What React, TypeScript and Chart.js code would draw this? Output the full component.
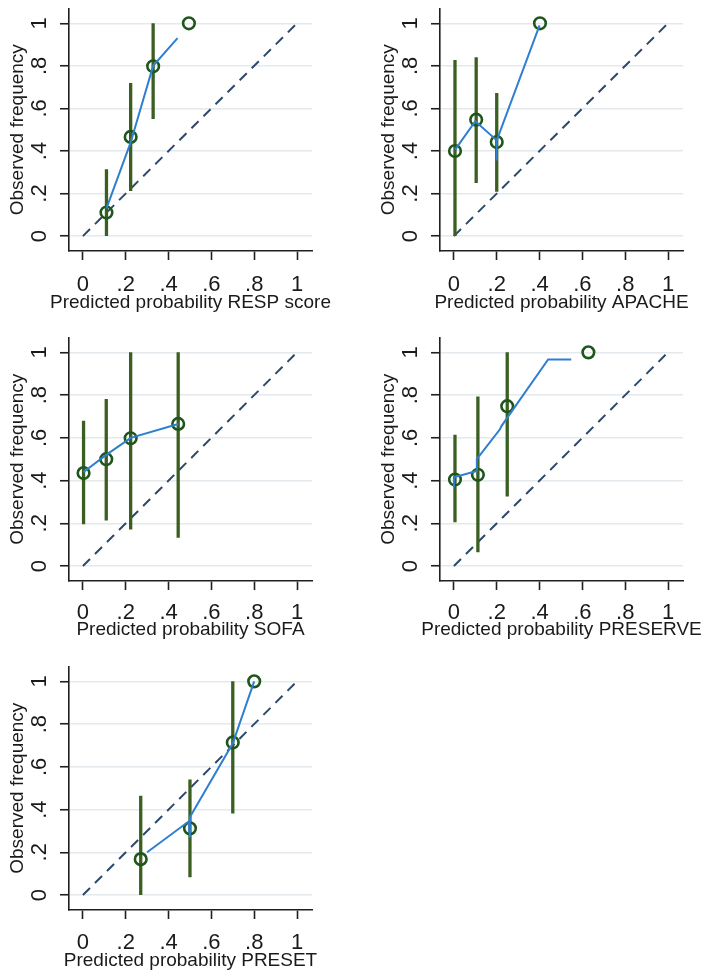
import React, { useEffect, useRef } from "react";
import { Chart, registerables } from "chart.js";

Chart.register(...registerables);

// ---------- shared axis data ----------
const tickValues = [0, 0.2, 0.4, 0.6, 0.8, 1];
const tickLabels = ["0", ".2", ".4", ".6", ".8", "1"];
const yAxisTitle = "Observed frequency";
const diagonalX = [0, 1];
const diagonalY = [0, 1];

// ---------- RESP score ----------
const respX = [0.11, 0.223, 0.328, 0.495];
const respY = [0.111, 0.466, 0.798, 1.0];
const respLo = [0.0, 0.2125, 0.55, null];
const respHi = [0.314, 0.719, 1.0, null];
const respSmoothX = [0.11, 0.223, 0.328, 0.442];
const respSmoothY = [0.13, 0.44, 0.8, 0.93];

// ---------- APACHE ----------
const apacheX = [0.005, 0.104, 0.2, 0.402];
const apacheY = [0.4, 0.547, 0.442, 1.0];
const apacheLo = [0.0, 0.25, 0.208, null];
const apacheHi = [0.828, 0.84, 0.673, null];
const apacheSmoothX = [0.005, 0.1, 0.2, 0.2, 0.2, 0.4];
const apacheSmoothY = [0.405, 0.54, 0.45, 0.355, 0.45, 0.99];

// ---------- SOFA ----------
const sofaX = [0.003, 0.109, 0.223, 0.445];
const sofaY = [0.435, 0.5, 0.598, 0.665];
const sofaLo = [0.195, 0.213, 0.171, 0.132];
const sofaHi = [0.68, 0.782, 1.0, 1.0];
const sofaSmoothX = [0.003, 0.109, 0.223, 0.445];
const sofaSmoothY = [0.44, 0.52, 0.6, 0.665];

// ---------- PRESERVE ----------
const preserveX = [0.005, 0.112, 0.249, 0.628];
const preserveY = [0.405, 0.427, 0.748, 1.0];
const preserveLo = [0.205, 0.065, 0.326, null];
const preserveHi = [0.615, 0.793, 1.0, null];
const preserveSmoothX = [0.0, 0.0, 0.107, 0.107, 0.215, 0.222, 0.44, 0.548];
const preserveSmoothY = [0.37, 0.415, 0.445, 0.5, 0.64, 0.655, 0.967, 0.967];

// ---------- PRESET ----------
const presetX = [0.27, 0.5, 0.7, 0.8];
const presetY = [0.168, 0.312, 0.714, 1.0];
const presetLo = [0.0, 0.083, 0.382, null];
const presetHi = [0.465, 0.541, 1.0, null];
const presetSmoothX = [0.3, 0.495, 0.5, 0.5, 0.7, 0.8];
const presetSmoothY = [0.2, 0.345, 0.27, 0.365, 0.71, 1.0];

// ---------- styles ----------
const FONT = "'Liberation Sans', Arial, Helvetica, sans-serif";
const AXIS = "#1f1f1f";
const GRID = "#e3e9ed";
const TEXT = "#1a1a1a";
const BLUE = "#2f7fd1";
const GREEN_MARK = "#1e561c";
const GREEN_CI = "#3b5f21";
const DIAG = "#2d4869";

type PanelCfg = {
  title: string;
  x: number[];
  y: number[];
  lo: (number | null)[];
  hi: (number | null)[];
  sx: number[];
  sy: number[];
  left: number;
  top: number;
  width: number;
  height: number;
  areaLeft: number;
  areaRight: number;
  areaBottom: number;
  padLeft: number;
  tickPad: number;
  titleOffset: number;
};

const panels: PanelCfg[] = [
  { title: "Predicted probability RESP score", x: respX, y: respY, lo: respLo, hi: respHi, sx: respSmoothX, sy: respSmoothY,
    left: 0, top: 0, width: 354, height: 320, areaLeft: 69, areaRight: 312, areaBottom: 251, padLeft: 0, tickPad: 11.5, titleOffset: 52 },
  { title: "Predicted probability APACHE", x: apacheX, y: apacheY, lo: apacheLo, hi: apacheHi, sx: apacheSmoothX, sy: apacheSmoothY,
    left: 354, top: 0, width: 355, height: 320, areaLeft: 86, areaRight: 329, areaBottom: 251, padLeft: 17, tickPad: 11.5, titleOffset: 52 },
  { title: "Predicted probability SOFA", x: sofaX, y: sofaY, lo: sofaLo, hi: sofaHi, sx: sofaSmoothX, sy: sofaSmoothY,
    left: 0, top: 329, width: 354, height: 321, areaLeft: 69, areaRight: 312, areaBottom: 252, padLeft: 0, tickPad: 9.5, titleOffset: 49 },
  { title: "Predicted probability PRESERVE", x: preserveX, y: preserveY, lo: preserveLo, hi: preserveHi, sx: preserveSmoothX, sy: preserveSmoothY,
    left: 354, top: 329, width: 355, height: 321, areaLeft: 86, areaRight: 329, areaBottom: 252, padLeft: 17, tickPad: 9.5, titleOffset: 49 },
  { title: "Predicted probability PRESET", x: presetX, y: presetY, lo: presetLo, hi: presetHi, sx: presetSmoothX, sy: presetSmoothY,
    left: 0, top: 658, width: 354, height: 321, areaLeft: 69, areaRight: 312, areaBottom: 252, padLeft: 0, tickPad: 11, titleOffset: 51 },
];

function labelFor(value: number): string {
  const i = tickValues.findIndex((t) => Math.abs(t - value) < 1e-9);
  return i >= 0 ? tickLabels[i] : "";
}

// x-axis title drawn without Chart.js' maxWidth squeeze (it overhangs the plot)
const xTitlePlugin = {
  id: "xTitle",
  afterDraw(chart: any, _args: any, opts: any) {
    const { ctx, chartArea } = chart;
    ctx.save();
    ctx.font = `19px ${FONT}`;
    ctx.fillStyle = TEXT;
    ctx.textAlign = "center";
    ctx.textBaseline = "middle";
    ctx.fillText(opts.text, (chartArea.left + chartArea.right) / 2, chartArea.bottom + opts.offset);
    ctx.restore();
  },
};

function Panel({ cfg }: { cfg: PanelCfg }) {
  const ref = useRef<HTMLCanvasElement | null>(null);

  useEffect(() => {
    const canvas = ref.current;
    if (!canvas) return;

    const ciData: { x: number; y: number | null }[] = [];
    cfg.x.forEach((xv, i) => {
      const lo = cfg.lo[i];
      const hi = cfg.hi[i];
      if (lo != null && hi != null) {
        ciData.push({ x: xv, y: lo }, { x: xv, y: hi }, { x: xv, y: null });
      }
    });

    const setTicks = (scale: any) => {
      scale.ticks = tickValues.map((v) => ({ value: v }));
    };

    const chart = new Chart(canvas, {
      type: "scatter",
      plugins: [xTitlePlugin],
      data: {
        datasets: [
          {
            label: "lowess",
            data: cfg.sx.map((v, i) => ({ x: v, y: cfg.sy[i] })),
            showLine: true,
            borderColor: BLUE,
            backgroundColor: BLUE,
            borderWidth: 2,
            pointRadius: 0,
            tension: 0,
            fill: false,
          } as any,
          {
            label: "observed",
            data: cfg.x.map((v, i) => ({ x: v, y: cfg.y[i] })),
            showLine: false,
            pointRadius: 5.8,
            pointBorderWidth: 2.6,
            borderWidth: 2.6,
            pointBorderColor: GREEN_MARK,
            borderColor: GREEN_MARK,
            pointBackgroundColor: "rgba(0,0,0,0)",
            backgroundColor: "rgba(0,0,0,0)",
          } as any,
          {
            label: "ci",
            data: ciData,
            showLine: true,
            spanGaps: false,
            borderColor: GREEN_CI,
            backgroundColor: GREEN_CI,
            borderWidth: 3.3,
            borderCapStyle: "butt",
            pointRadius: 0,
          } as any,
          {
            label: "reference",
            data: diagonalX.map((v, i) => ({ x: v, y: diagonalY[i] })),
            showLine: true,
            borderColor: DIAG,
            backgroundColor: DIAG,
            borderWidth: 2,
            borderDash: [10, 7],
            pointRadius: 0,
          } as any,
        ],
      },
      options: {
        animation: false,
        responsive: true,
        maintainAspectRatio: false,
        devicePixelRatio: 1,
        events: [],
        layout: {
          padding: { left: cfg.padLeft, right: cfg.width - cfg.areaRight, top: 8, bottom: 0 },
        },
        plugins: {
          legend: { display: false },
          tooltip: { enabled: false },
          title: { display: false },
          xTitle: { text: cfg.title, offset: cfg.titleOffset },
        },
        scales: {
          x: {
            type: "linear",
            min: -0.065,
            max: 1.07,
            afterBuildTicks: setTicks,
            afterFit: (scale: any) => {
              scale.height = cfg.height - cfg.areaBottom;
              scale.paddingLeft = 0;
              scale.paddingRight = 0;
              scale.paddingTop = 0;
              scale.paddingBottom = 0;
            },
            grid: {
              display: true,
              drawOnChartArea: false,
              drawTicks: true,
              tickLength: 9,
              tickColor: AXIS,
              tickWidth: 1.6,
            },
            border: { display: true, color: AXIS, width: 1.6 },
            ticks: {
              autoSkip: false,
              maxRotation: 0,
              minRotation: 0,
              padding: cfg.tickPad,
              color: TEXT,
              font: { family: FONT, size: 22 },
              callback: (v: any) => labelFor(Number(v)),
            },
            title: { display: false },
          },
          y: {
            type: "linear",
            min: -0.07,
            max: 1.07,
            afterBuildTicks: setTicks,
            afterFit: (scale: any) => {
              scale.width = cfg.areaLeft - cfg.padLeft;
              scale.paddingLeft = 0;
              scale.paddingRight = 0;
              scale.paddingTop = 0;
              scale.paddingBottom = 0;
            },
            grid: {
              display: true,
              drawOnChartArea: true,
              color: GRID,
              lineWidth: 1.5,
              drawTicks: true,
              tickLength: 9,
              tickColor: AXIS,
              tickWidth: 1.6,
            },
            border: { display: true, color: AXIS, width: 1.6 },
            ticks: {
              autoSkip: false,
              minRotation: 90,
              maxRotation: 90,
              crossAlign: "center",
              padding: 10.5,
              color: TEXT,
              font: { family: FONT, size: 22 },
              callback: (v: any) => labelFor(Number(v)),
            },
            title: {
              display: true,
              text: yAxisTitle,
              color: TEXT,
              font: { family: FONT, size: 19 },
              padding: { top: 6, bottom: 0 },
            },
          },
        },
      } as any,
    });

    return () => chart.destroy();
  }, [cfg]);

  return (
    <div
      style={{
        position: "absolute",
        left: cfg.left,
        top: cfg.top,
        width: cfg.width,
        height: cfg.height,
      }}
    >
      <canvas ref={ref} />
    </div>
  );
}

export default function App() {
  return (
    <div
      style={{
        position: "absolute",
        left: 0,
        top: 0,
        width: 709,
        height: 979,
        background: "#ffffff",
        overflow: "hidden",
      }}
    >
      {panels.map((p) => (
        <Panel key={p.title} cfg={p} />
      ))}
    </div>
  );
}
